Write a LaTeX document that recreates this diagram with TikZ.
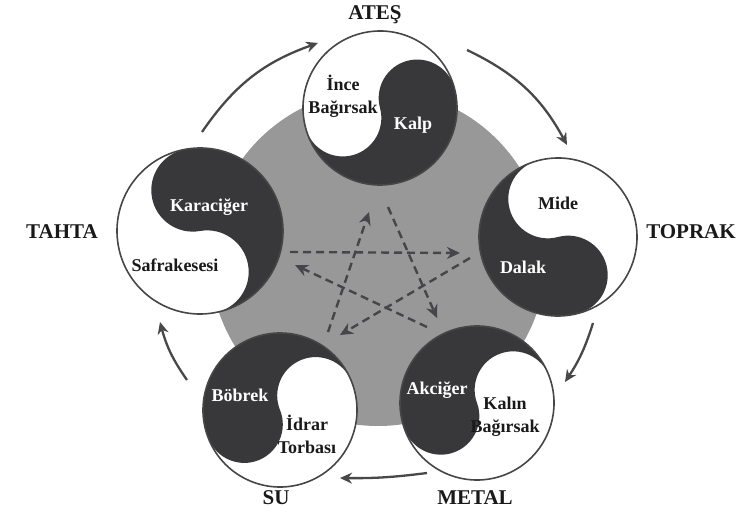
\documentclass[tikz,border=0pt]{standalone}
\usepackage{fontspec}
\setmainfont{Liberation Serif}
\usetikzlibrary{arrows.meta}
\definecolor{bggray}{RGB}{152,152,152}
\definecolor{yydark}{RGB}{56,56,58}
\definecolor{ringcol}{RGB}{70,70,70}
\definecolor{arrowcol}{RGB}{72,72,72}
\definecolor{dashcol}{RGB}{70,70,74}
\definecolor{textcol}{RGB}{25,25,25}
\newcommand{\yypart}[4]{%
  \begin{scope}[shift={#1},rotate=#3]
    \fill[white] (0,0) circle[radius=#2];
    \fill[yydark] (#2,0) arc[start angle=0,end angle=180,radius=#2/2]
      arc[start angle=0,end angle=-180,radius=#2/2]
      arc[start angle=180,end angle=360,radius=#2];
    \draw[ring] (0,0) circle[radius=#2];
  \end{scope}
  \node[circle,inner sep=0pt,minimum size=2*#2 pt] (#4) at #1 {};
}
\tikzset{
  ring/.style={draw=ringcol,line width=1.6pt},
  flow/.style={draw=arrowcol,line width=2.3pt,-{Stealth[length=12pt,width=11pt]}},
  ctrl/.style={draw=dashcol,line width=2.4pt,dash pattern=on 8pt off 5pt,-{Stealth[length=13pt,width=12pt]}},
  outer/.style={font=\fontsize{21}{24}\selectfont\bfseries,text=textcol,inner sep=0pt},
  innerw/.style={font=\fontsize{18}{23}\selectfont\bfseries,text=white,inner sep=0pt,align=center},
  innerb/.style={font=\fontsize{18}{23}\selectfont\bfseries,text=textcol,inner sep=0pt,align=center},
}
\begin{document}
\begin{tikzpicture}[x=1pt,y=1pt]
\useasboundingbox (0,0) rectangle (752,512);
% background disc
\fill[bggray] (378,254) circle[radius=168];
% yin-yang circles
\yypart{(380,404)}{77}{15}{fire}
\yypart{(558,275)}{79}{-75}{earth}
\yypart{(477,109)}{77}{200}{metal}
\yypart{(280,102)}{77}{202}{water}
\yypart{(200,281)}{83}{100}{wood}
% pentagram coordinates
\coordinate (f1) at (388,305); \coordinate (m1) at (437,194);
\coordinate (m2) at (427,185); \coordinate (w2) at (295,247);
\coordinate (w3) at (290,260); \coordinate (e3) at (460,259);
\coordinate (e4) at (470,254); \coordinate (s4) at (340,177);
\coordinate (s5) at (328,180); \coordinate (f5) at (369,300);
\draw[ctrl] (f1) -- (m1);
\draw[ctrl] (m2) -- (w2);
\draw[ctrl] (w3) -- (e3);
\draw[ctrl] (e4) -- (s4);
\draw[ctrl] (s5) -- (f5);
% outer arrows
\coordinate (a1s) at (202,380); \coordinate (a1e) at (318,469);
\coordinate (a2s) at (467,462); \coordinate (a2e) at (567,367);
\coordinate (a3s) at (593,189); \coordinate (a3e) at (565,130);
\coordinate (a4s) at (427,39);  \coordinate (a4e) at (340,34);
\coordinate (a5s) at (187,132); \coordinate (a5e) at (160,190);
\draw[flow] (a1s) to[bend left=18] (a1e);
\draw[flow] (a2s) to[bend left=18] (a2e);
\draw[flow] (a3s) to[bend left=8] (a3e);
\draw[flow] (a4s) to[bend left=4] (a4e);
\draw[flow] (a5s) to[bend left=10] (a5e);
% outer labels
\node[outer] (lfire) at (375,497) {ATEŞ};
\node[outer] (learth) at (691,280) {TOPRAK};
\node[outer] (lmetal) at (475,14) {METAL};
\node[outer] (lwater) at (276,14) {SU};
\node[outer] (lwood) at (62,280) {TAHTA};
% inner labels
\node[innerb] (ince) at (343,416) {İnce\\Bağırsak};
\node[innerw] (kalp) at (413,387) {Kalp};
\node[innerb] (mide) at (558,309) {Mide};
\node[innerw] (dalak) at (523,245) {Dalak};
\node[innerw] (akc) at (437,122) {Akciğer};
\node[innerb] (kalin) at (505,95) {Kalın\\Bağırsak};
\node[innerw] (bob) at (240,117) {Böbrek};
\node[innerb] (idrar) at (307,78) {İdrar\\Torbası};
\node[innerw] (kara) at (209,305) {Karaciğer};
\node[innerb] (safra) at (175,247) {Safrakesesi};
\end{tikzpicture}
\end{document}
